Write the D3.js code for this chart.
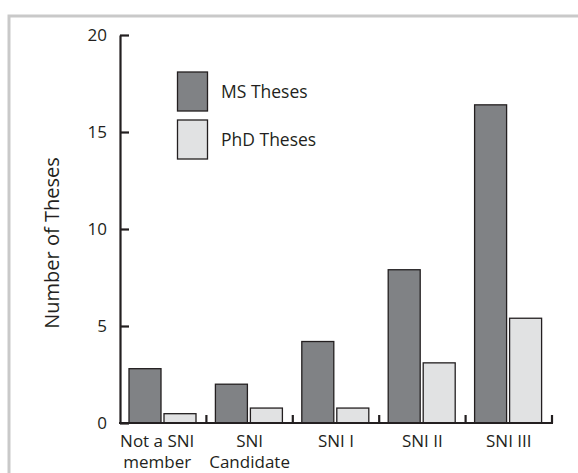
<!DOCTYPE html>
<html><head><meta charset="utf-8">
<script src="https://cdn.jsdelivr.net/npm/d3@7"></script>
<style>body{margin:0;background:#fff}svg{display:block}text{font-family:"Open Sans",sans-serif;fill:#231f20}</style>
</head><body>
<svg id="c" width="578" height="473"></svg>
<script>
const categories = ["Not a SNI\nmember", "SNI\nCandidate", "SNI I", "SNI II", "SNI III"];
const seriesNames = ["MS Theses", "PhD Theses"];
const msValues = [2.8, 2.0, 4.2, 7.9, 16.4];
const phdValues = [0.48, 0.77, 0.77, 3.1, 5.4];
const yTicks = [0, 5, 10, 15, 20];
const colors = ["#808285", "#e1e2e3"];

const svg = d3.select("#c");
svg.append("rect").attr("x", 9).attr("y", 16).attr("width", 600).attr("height", 500)
  .attr("fill", "none").attr("stroke", "#c9c9c9").attr("stroke-width", 3);

const x = d3.scaleBand().domain(categories).range([120, 552]).paddingInner(0);
const xs = d3.scaleBand().domain(seriesNames).range([9, 76]).paddingInner(3/35);
const y = d3.scaleLinear().domain([0, 20]).range([423, 35]);

const data = categories.map((c, i) => ({c, vals: [msValues[i], phdValues[i]]}));
const g = svg.append("g");
data.forEach(d => {
  d.vals.forEach((v, j) => {
    g.append("rect")
      .attr("x", x(d.c) + xs(seriesNames[j]))
      .attr("y", y(v))
      .attr("width", xs.bandwidth())
      .attr("height", y(0) - y(v))
      .attr("fill", colors[j])
      .attr("stroke", "#231f20").attr("stroke-width", 1.3);
  });
});

// y axis
const ya = svg.append("g").attr("transform", "translate(120,0)")
  .call(d3.axisLeft(y).tickValues(yTicks).tickSizeInner(-9).tickSizeOuter(0).tickPadding(13));
ya.select(".domain").attr("stroke", "#231f20").attr("stroke-width", 2.2);
ya.selectAll(".tick line").attr("stroke", "#231f20").attr("stroke-width", 2.2);
ya.selectAll(".tick text").style("font-family", '"Open Sans",sans-serif').style("font-size", "17px").attr("fill", "#231f20");

// x axis
svg.append("line").attr("x1", 119).attr("x2", 553).attr("y1", y(0)).attr("y2", y(0))
  .attr("stroke", "#231f20").attr("stroke-width", 2.2);
categories.forEach(c => {
  const xx = x(c) + x.bandwidth();
  svg.append("line").attr("x1", xx).attr("x2", xx).attr("y1", y(0)).attr("y2", y(0) - 8)
    .attr("stroke", "#231f20").attr("stroke-width", 2.2);
  const t = svg.append("text").attr("text-anchor", "middle").style("font-size", "17px");
  c.split("\n").forEach((line, k) => {
    t.append("tspan").attr("x", x(c) + x.bandwidth() / 2 - (c.startsWith("Not") ? 6 : 0)).attr("y", 447 + k * 21).text(line);
  });
});

// y title
svg.append("text").attr("transform", "translate(59,243) rotate(-90)")
  .attr("text-anchor", "middle").style("font-size", "20px").text("Number of Theses");

// legend
seriesNames.forEach((s, j) => {
  const ly = 72 + j * 48;
  svg.append("rect").attr("x", 177.5).attr("y", ly).attr("width", 30).attr("height", 39)
    .attr("fill", colors[j]).attr("stroke", "#231f20").attr("stroke-width", 1.3);
  svg.append("text").attr("x", 221).attr("y", ly + 26).style("font-size", "17.5px").text(s);
});
</script>
</body></html>
